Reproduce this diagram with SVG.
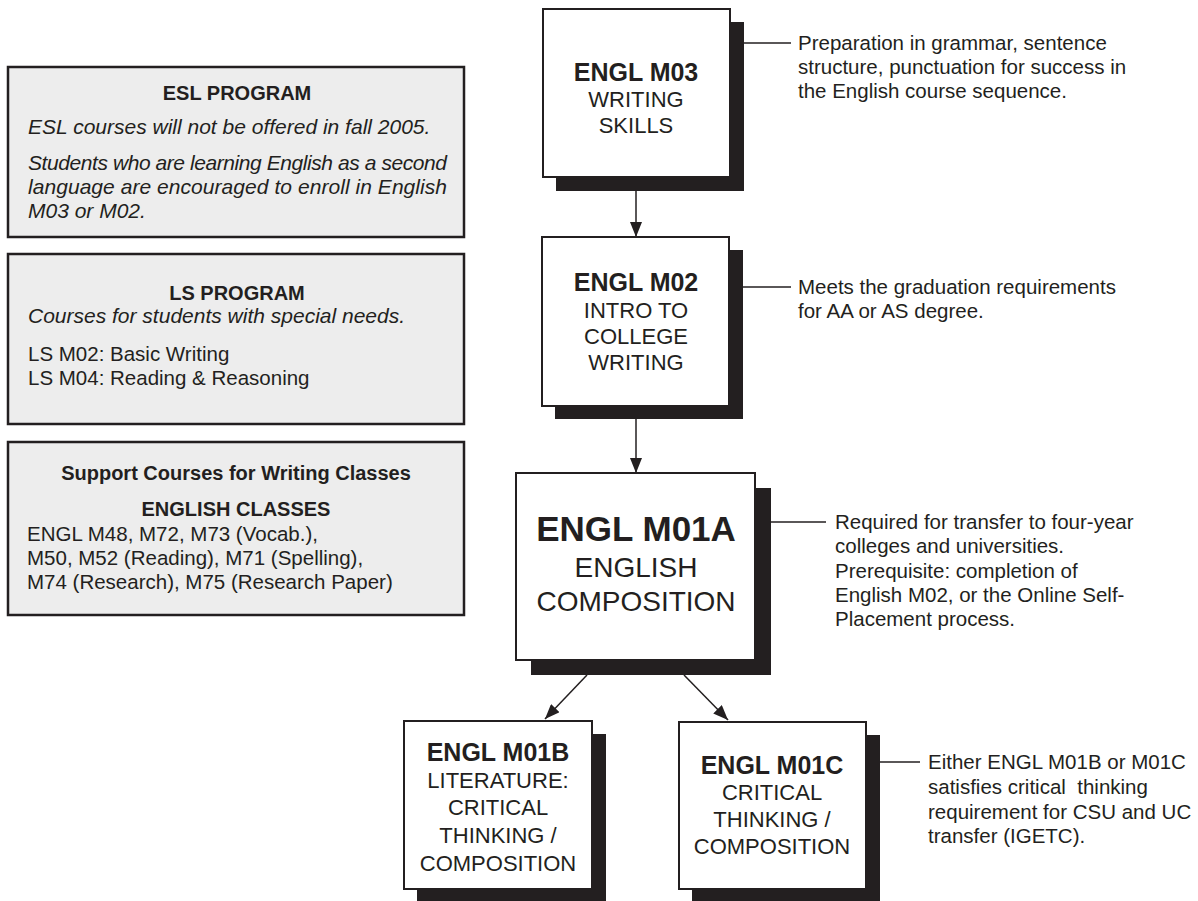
<svg xmlns="http://www.w3.org/2000/svg" width="1198" height="901" viewBox="0 0 1198 901">
<defs>
<style>
text{font-family:"Liberation Sans",Arial,Helvetica,sans-serif;fill:#231f20}
.panel{fill:#ededed;stroke:#231f20;stroke-width:2.5}
.box{fill:#ffffff;stroke:#231f20;stroke-width:2}
.shadow{fill:#231f20}
.h{font-weight:bold;font-size:20px;text-anchor:middle}
.it{font-style:italic;font-size:21px}
.body{font-size:20.5px}
.note{font-size:20.5px}
.nb{font-weight:bold;font-size:25px;text-anchor:middle}
.nt{font-size:22px;text-anchor:middle}
.line{stroke:#231f20;stroke-width:1.5;fill:none}
</style>
<marker id="arrB" viewBox="0 0 15 12" refX="15" refY="6" markerWidth="15" markerHeight="12" markerUnits="userSpaceOnUse" orient="auto">
<path d="M0,0 L15,6 L0,12 Z" fill="#231f20"/>
</marker>
</defs>

<g id="esl-program">
<rect class="panel" x="8" y="67" width="456" height="170"/>
<text class="h" x="237" y="100">ESL PROGRAM</text>
<text class="it" x="28" y="134">ESL courses will not be offered in fall 2005.</text>
<text class="it" x="28" y="170" textLength="419" lengthAdjust="spacing">Students who are learning English as a second</text>
<text class="it" x="28" y="194" textLength="419" lengthAdjust="spacing">language are encouraged to enroll in English</text>
<text class="it" x="28" y="218">M03 or M02.</text>
</g>

<g id="ls-program">
<rect class="panel" x="8" y="254" width="456" height="170"/>
<text class="h" x="237" y="300">LS PROGRAM</text>
<text class="it" x="28" y="323">Courses for students with special needs.</text>
<text class="body" x="28" y="361">LS M02: Basic Writing</text>
<text class="body" x="28" y="385">LS M04: Reading &amp; Reasoning</text>
</g>

<g id="support-courses">
<rect class="panel" x="8" y="442" width="456" height="173"/>
<text class="h" x="236" y="480">Support Courses for Writing Classes</text>
<text class="h" x="236" y="516">ENGLISH CLASSES</text>
<text class="body" x="27" y="541">ENGL M48, M72, M73 (Vocab.),</text>
<text class="body" x="27" y="565">M50, M52 (Reading), M71 (Spelling),</text>
<text class="body" x="27" y="589">M74 (Research), M75 (Research Paper)</text>
</g>

<g id="connectors">
<line class="line" x1="636" y1="191" x2="636" y2="237" marker-end="url(#arrB)"/>
<line class="line" x1="636" y1="419" x2="636" y2="473" marker-end="url(#arrB)"/>
<line class="line" x1="587" y1="675" x2="545" y2="719" marker-end="url(#arrB)"/>
<line class="line" x1="684" y1="675" x2="728" y2="720" marker-end="url(#arrB)"/>
<line class="line" x1="744" y1="43" x2="791" y2="43"/>
<line class="line" x1="743" y1="287" x2="791" y2="287"/>
<line class="line" x1="771" y1="522" x2="826" y2="522"/>
<line class="line" x1="880" y1="762" x2="920" y2="762"/>
</g>

<g id="engl-m03">
<rect class="shadow" x="556" y="22" width="188" height="169"/>
<rect class="box" x="543" y="9" width="187" height="168"/>
<text class="nb" x="636" y="81">ENGL M03</text>
<text class="nt" x="636" y="107">WRITING</text>
<text class="nt" x="636" y="133">SKILLS</text>
</g>

<g id="engl-m02">
<rect class="shadow" x="555" y="250" width="188" height="169"/>
<rect class="box" x="542" y="237" width="187" height="169"/>
<text class="nb" x="636" y="291">ENGL M02</text>
<text class="nt" x="636" y="318">INTRO TO</text>
<text class="nt" x="636" y="344">COLLEGE</text>
<text class="nt" x="636" y="370">WRITING</text>
</g>

<g id="engl-m01a">
<rect class="shadow" x="531" y="488" width="240" height="187"/>
<rect class="box" x="516" y="473" width="239" height="187"/>
<text class="nb" x="636" y="541" style="font-size:35px">ENGL M01A</text>
<text class="nt" x="636" y="577" style="font-size:28px">ENGLISH</text>
<text class="nt" x="636" y="611" style="font-size:28px">COMPOSITION</text>
</g>

<g id="engl-m01b">
<rect class="shadow" x="417" y="734" width="189" height="170"/>
<rect class="box" x="404" y="721" width="188" height="168"/>
<text class="nb" x="498" y="761">ENGL M01B</text>
<text class="nt" x="498" y="788">LITERATURE:</text>
<text class="nt" x="498" y="815">CRITICAL</text>
<text class="nt" x="498" y="843">THINKING /</text>
<text class="nt" x="498" y="871">COMPOSITION</text>
</g>

<g id="engl-m01c">
<rect class="shadow" x="692" y="735" width="188" height="169"/>
<rect class="box" x="679" y="722" width="187" height="167"/>
<text class="nb" x="772" y="774">ENGL M01C</text>
<text class="nt" x="772" y="800">CRITICAL</text>
<text class="nt" x="772" y="827">THINKING /</text>
<text class="nt" x="772" y="854">COMPOSITION</text>
</g>

<g id="notes">
<text class="note" x="798" y="50">Preparation in grammar, sentence</text>
<text class="note" x="798" y="74">structure, punctuation for success in</text>
<text class="note" x="798" y="98">the English course sequence.</text>
<text class="note" x="798" y="294">Meets the graduation requirements</text>
<text class="note" x="798" y="318">for AA or AS degree.</text>
<text class="note" x="835" y="529">Required for transfer to four-year</text>
<text class="note" x="835" y="553">colleges and universities.</text>
<text class="note" x="835" y="578">Prerequisite: completion of</text>
<text class="note" x="835" y="602">English M02, or the Online Self-</text>
<text class="note" x="835" y="626">Placement process.</text>
<text class="note" x="928" y="769" xml:space="preserve">Either ENGL M01B or M01C</text>
<text class="note" x="928" y="794" xml:space="preserve">satisfies critical  thinking</text>
<text class="note" x="928" y="819">requirement for CSU and UC</text>
<text class="note" x="928" y="843">transfer (IGETC).</text>
</g>
</svg>
